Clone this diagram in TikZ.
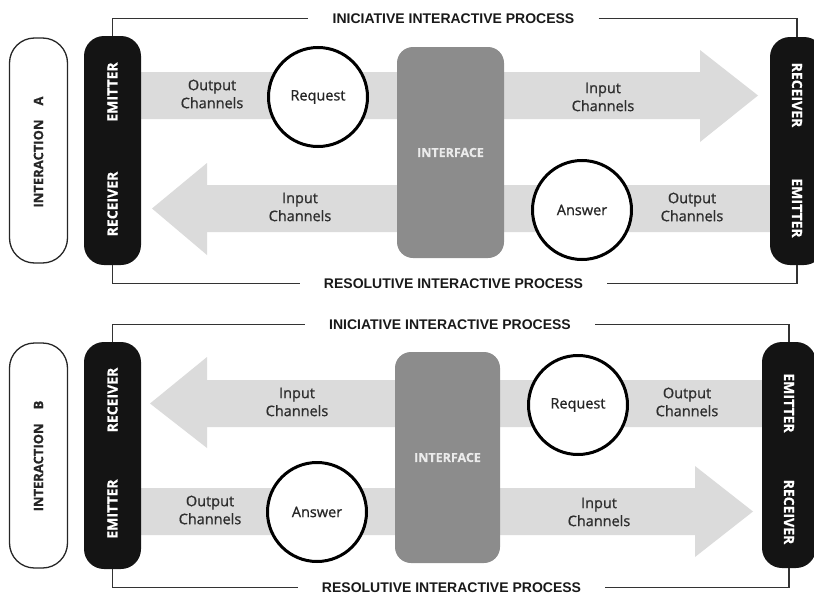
\documentclass[tikz,border=0pt]{standalone}
\usepackage{fontspec}
\setmainfont{Open Sans}
\newfontfamily\titlefont{Liberation Sans}
\newfontfamily\semib{Open Sans}[FakeBold=0.9]
\newfontfamily\heavyb{Open Sans Bold}[FakeBold=0.7]
\begin{document}
\begin{tikzpicture}[x=1pt,y=-1pt,
  chan/.style={font=\semib\fontsize{14.5}{18}\selectfont, text=black!82, align=center, inner sep=0},
  barlbl/.style={font=\heavyb\fontsize{14}{16}\selectfont, text=white, inner sep=0},
  barbox/.style={fill=black!92, rounded corners=20pt, minimum width=57pt, inner sep=0},
  rbarbox/.style={fill=black!92, rounded corners=20pt, minimum width=54pt, inner sep=0},
  pill/.style={draw=black!85, line width=1.3pt, fill=white, rounded corners=25pt, minimum width=58pt, inner sep=0},
  pilllbl/.style={font=\heavyb\fontsize{13}{15}\selectfont, text=black!85, inner sep=0},
  proctitle/.style={font=\titlefont\bfseries\fontsize{14}{16}\selectfont, text=black!90, inner xsep=24pt, inner ysep=0},
  procline/.style={draw=black!80, line width=1.8pt},
  circ/.style={circle, draw=black, line width=3pt, fill=white, minimum size=99pt, inner sep=0, font=\semib\fontsize{14.5}{16}\selectfont, text=black!85},
  iface/.style={fill=black!45, rounded corners=16pt, inner sep=0},
  ifacelbl/.style={font=\heavyb\fontsize{12.5}{14}\selectfont, text=black!8, inner sep=0},
  arr/.style={fill=black!14}
]
\useasboundingbox (0,0) rectangle (814,597);
\clip (0,0) rectangle (814,597);

% ================= TOP (Interaction A) =================
% arrows
\fill[arr] (125,72) -- (700,72) -- (700,50) -- (758,95.5) -- (700,142) -- (700,119) -- (125,119) -- cycle;
\fill[arr] (152,208.5) -- (207,163) -- (207,185) -- (785,185) -- (785,232) -- (207,232) -- (207,255) -- cycle;
% interface
\node[iface, minimum width=107pt, minimum height=211pt] (ifA) at (450.5,152.5) {};
\node[ifacelbl] (ifAl) at (ifA.center) {INTERFACE};
% circles
\node[circ] (reqA) at (318,97) {Request};
\node[circ] (ansA) at (582,210) {Answer};
% channel labels
\node[chan] (ocA1) at (212,94) {Output\\Channels};
\node[chan] (icA1) at (603,97) {Input\\Channels};
\node[chan] (icA2) at (300,207) {Input\\Channels};
\node[chan] (ocA2) at (692,207) {Output\\Channels};
% pill and bars
\node[pill, minimum height=225pt] (pA) at (38.5,150.5) {};
\node[pilllbl, rotate=90] (pAl) at (38.5,152) {INTERACTION\hspace{14pt}A};
\node[barbox, minimum height=229pt] (lbA) at (112.5,150.5) {};
\node[rbarbox, minimum height=228pt] (rbA) at (797,151) {};
\node[barlbl, rotate=90] (lbA1) at (112.5,92) {EMITTER};
\node[barlbl, rotate=90] (lbA2) at (112.5,204) {RECEIVER};
\node[barlbl, rotate=-90] (rbA1) at (797,95) {RECEIVER};
\node[barlbl, rotate=-90] (rbA2) at (797,208) {EMITTER};
% process brackets
\node[proctitle] (tA) at (453.5,18.5) {INICIATIVE INTERACTIVE PROCESS};
\node[proctitle] (bA) at (453.5,283.5) {RESOLUTIVE INTERACTIVE PROCESS};
\draw[procline] (lbA.north) |- (tA.west);
\draw[procline] (tA.east) -| (rbA.north);
\draw[procline] (lbA.south) |- (bA.west);
\draw[procline] (bA.east) -| (rbA.south);

% ================= BOTTOM (Interaction B) =================
\fill[arr] (150,403.5) -- (207,357) -- (207,380) -- (775,380) -- (775,427) -- (207,427) -- (207,448) -- cycle;
\fill[arr] (125,488) -- (695,488) -- (695,466) -- (753,511.5) -- (695,557) -- (695,535) -- (125,535) -- cycle;
\node[iface, minimum width=105pt, minimum height=211pt] (ifB) at (447.5,457.5) {};
\node[ifacelbl] (ifBl) at (ifB.center) {INTERFACE};
\node[circ] (reqB) at (578,405) {Request};
\node[circ] (ansB) at (317,512) {Answer};
\node[chan] (icB1) at (297,402) {Input\\Channels};
\node[chan] (ocB1) at (687,402) {Output\\Channels};
\node[chan] (ocB2) at (210,510) {Output\\Channels};
\node[chan] (icB2) at (599,512) {Input\\Channels};
\node[pill, minimum height=225pt] (pB) at (38.5,455.5) {};
\node[pilllbl, rotate=90] (pBl) at (38.5,456) {INTERACTION\hspace{14pt}B};
\node[barbox, minimum height=227pt] (lbB) at (112.5,455.5) {};
\node[rbarbox, minimum height=226pt] (rbB) at (789,455) {};
\node[barlbl, rotate=90] (lbB1) at (112.5,400) {RECEIVER};
\node[barlbl, rotate=90] (lbB2) at (112.5,509) {EMITTER};
\node[barlbl, rotate=-90] (rbB1) at (789,403) {EMITTER};
\node[barlbl, rotate=-90] (rbB2) at (789,512) {RECEIVER};
\node[proctitle] (tB) at (450,324.5) {INICIATIVE INTERACTIVE PROCESS};
\node[proctitle] (bB) at (451.5,587.5) {RESOLUTIVE INTERACTIVE PROCESS};
\draw[procline] (lbB.north) |- (tB.west);
\draw[procline] (tB.east) -| (rbB.north);
\draw[procline] (lbB.south) |- (bB.west);
\draw[procline] (bB.east) -| (rbB.south);
\end{tikzpicture}
\end{document}
